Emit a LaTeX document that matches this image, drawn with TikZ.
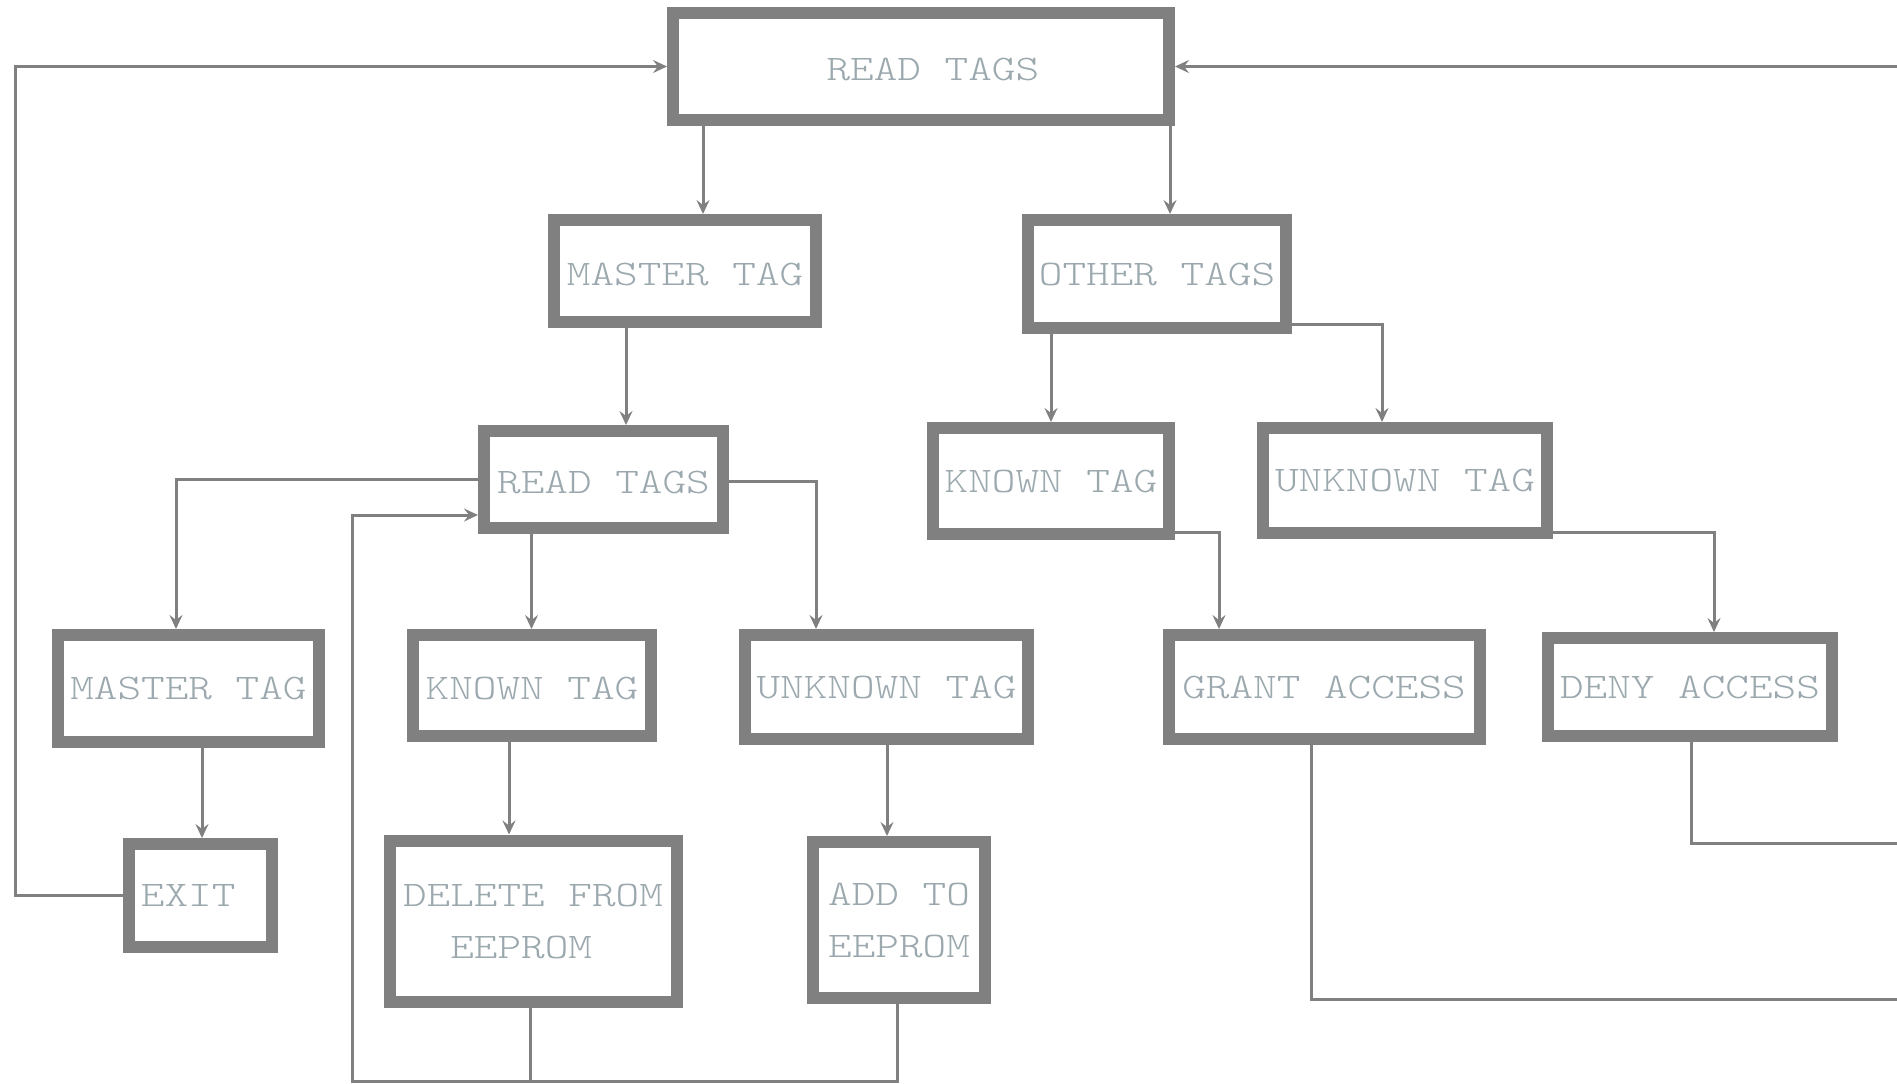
\documentclass[tikz,border=0pt]{standalone}
\usepackage{fontspec}
\usepackage{tikz}
\usetikzlibrary{arrows.meta}
\definecolor{rfGray}{HTML}{808080}
\definecolor{rfText}{HTML}{9BA8AE}
\newfontfamily\tagfont{lmmonolt10-regular.otf}[FakeStretch=1.25]
\newcommand{\dropped}[1]{\raisebox{-1.5pt}[\height][\depth]{#1}}

\begin{document}
\begin{tikzpicture}[x=0.5pt,y=-0.5pt,
  tagbox/.style={draw=rfGray,line width=6pt,inner sep=0pt,fill=white,
    font=\tagfont\fontsize{18pt}{26pt}\selectfont,text=rfText,align=center},
  flow/.style={draw=rfGray,line width=1.5pt,-{Stealth[length=7pt,width=6.5pt,inset=2.5pt]}},
  wire/.style={draw=rfGray,line width=1.5pt}]
  \useasboundingbox (0,0) rectangle (1897,1083);
  \clip (0,0) rectangle (1897,1083);
  % boxes
  \node[tagbox,minimum width=248pt,minimum height=53.5pt] (rtTop) at (921,66.5) {\dropped{\hphantom{X}READ TAGS}};
  \node[tagbox,minimum width=131pt,minimum height=51pt] (mtA) at (685,271) {\dropped{MASTER TAG}};
  \node[tagbox,minimum width=129pt,minimum height=54pt] (ot) at (1157,274) {OTHER TAGS};
  \node[tagbox,minimum width=119.5pt,minimum height=48.5pt] (rtMid) at (603.5,479.5) {\dropped{READ TAGS}};
  \node[tagbox,minimum width=118pt,minimum height=53pt] (ktA) at (1051,481) {KNOWN TAG};
  \node[tagbox,minimum width=142pt,minimum height=52.5pt] (utA) at (1405,480.5) {UNKNOWN TAG};
  \node[tagbox,minimum width=130.5pt,minimum height=53.5pt] (mtB) at (188.5,688.5) {MASTER TAG};
  \node[tagbox,minimum width=119pt,minimum height=50.5pt] (ktB) at (532,685.5) {\dropped{KNOWN TAG}};
  \node[tagbox,minimum width=141.5pt,minimum height=52pt] (utB) at (886.5,687) {UNKNOWN TAG};
  \node[tagbox,minimum width=155.5pt,minimum height=52pt] (ga) at (1324,687) {GRANT ACCESS};
  \node[tagbox,minimum width=142pt,minimum height=49pt] (da) at (1690,687) {DENY ACCESS};
  \node[tagbox,minimum width=71.5pt,minimum height=51.5pt] (exit) at (200,895.5) {EXIT\hphantom{X}};
  \node[tagbox,minimum width=143.5pt,minimum height=80.5pt] (del) at (533,921) {DELETE FROM\\EEPROM\hphantom{X}};
  \node[tagbox,minimum width=86pt,minimum height=78pt] (add) at (899,920) {ADD TO\\EEPROM};
  % straight arrows
  \foreach \a/\b/\x in {rtTop/mtA/703,rtTop/ot/1170,mtA/rtMid/626,ot/ktA/1051,
      rtMid/ktB/531.5,mtB/exit/202,ktB/del/509,utB/add/887}
    \draw[flow] (\x,0 |- \a.south) -- (\x,0 |- \b.north);
  % elbow arrows
  \draw[flow] (ot.east |- 0,324) -| (1382,0 |- utA.north);
  \draw[flow] (rtMid.west) -| (176,0 |- mtB.north);
  \draw[flow] (rtMid.east |- 0,481) -| (816,0 |- utB.north);
  \draw[flow] (ktA.east |- 0,532) -| (1219,0 |- ga.north);
  \draw[flow] (utA.east |- 0,532) -| (1714,0 |- da.north);
  % loops back
  \draw[flow] (exit.west) -| (15,0 |- rtTop.west) -- (rtTop.west);
  \draw[flow] (530,0 |- del.south) |- (352,1081) |- (rtMid.west |- 0,515);
  \draw[wire] (897,0 |- add.south) |- (530,1081);
  \draw[flow] (1311,0 |- ga.south) |- (1960,999) |- (rtTop.east);
  \draw[wire] (1691,0 |- da.south) |- (1960,843);
\end{tikzpicture}
\end{document}
